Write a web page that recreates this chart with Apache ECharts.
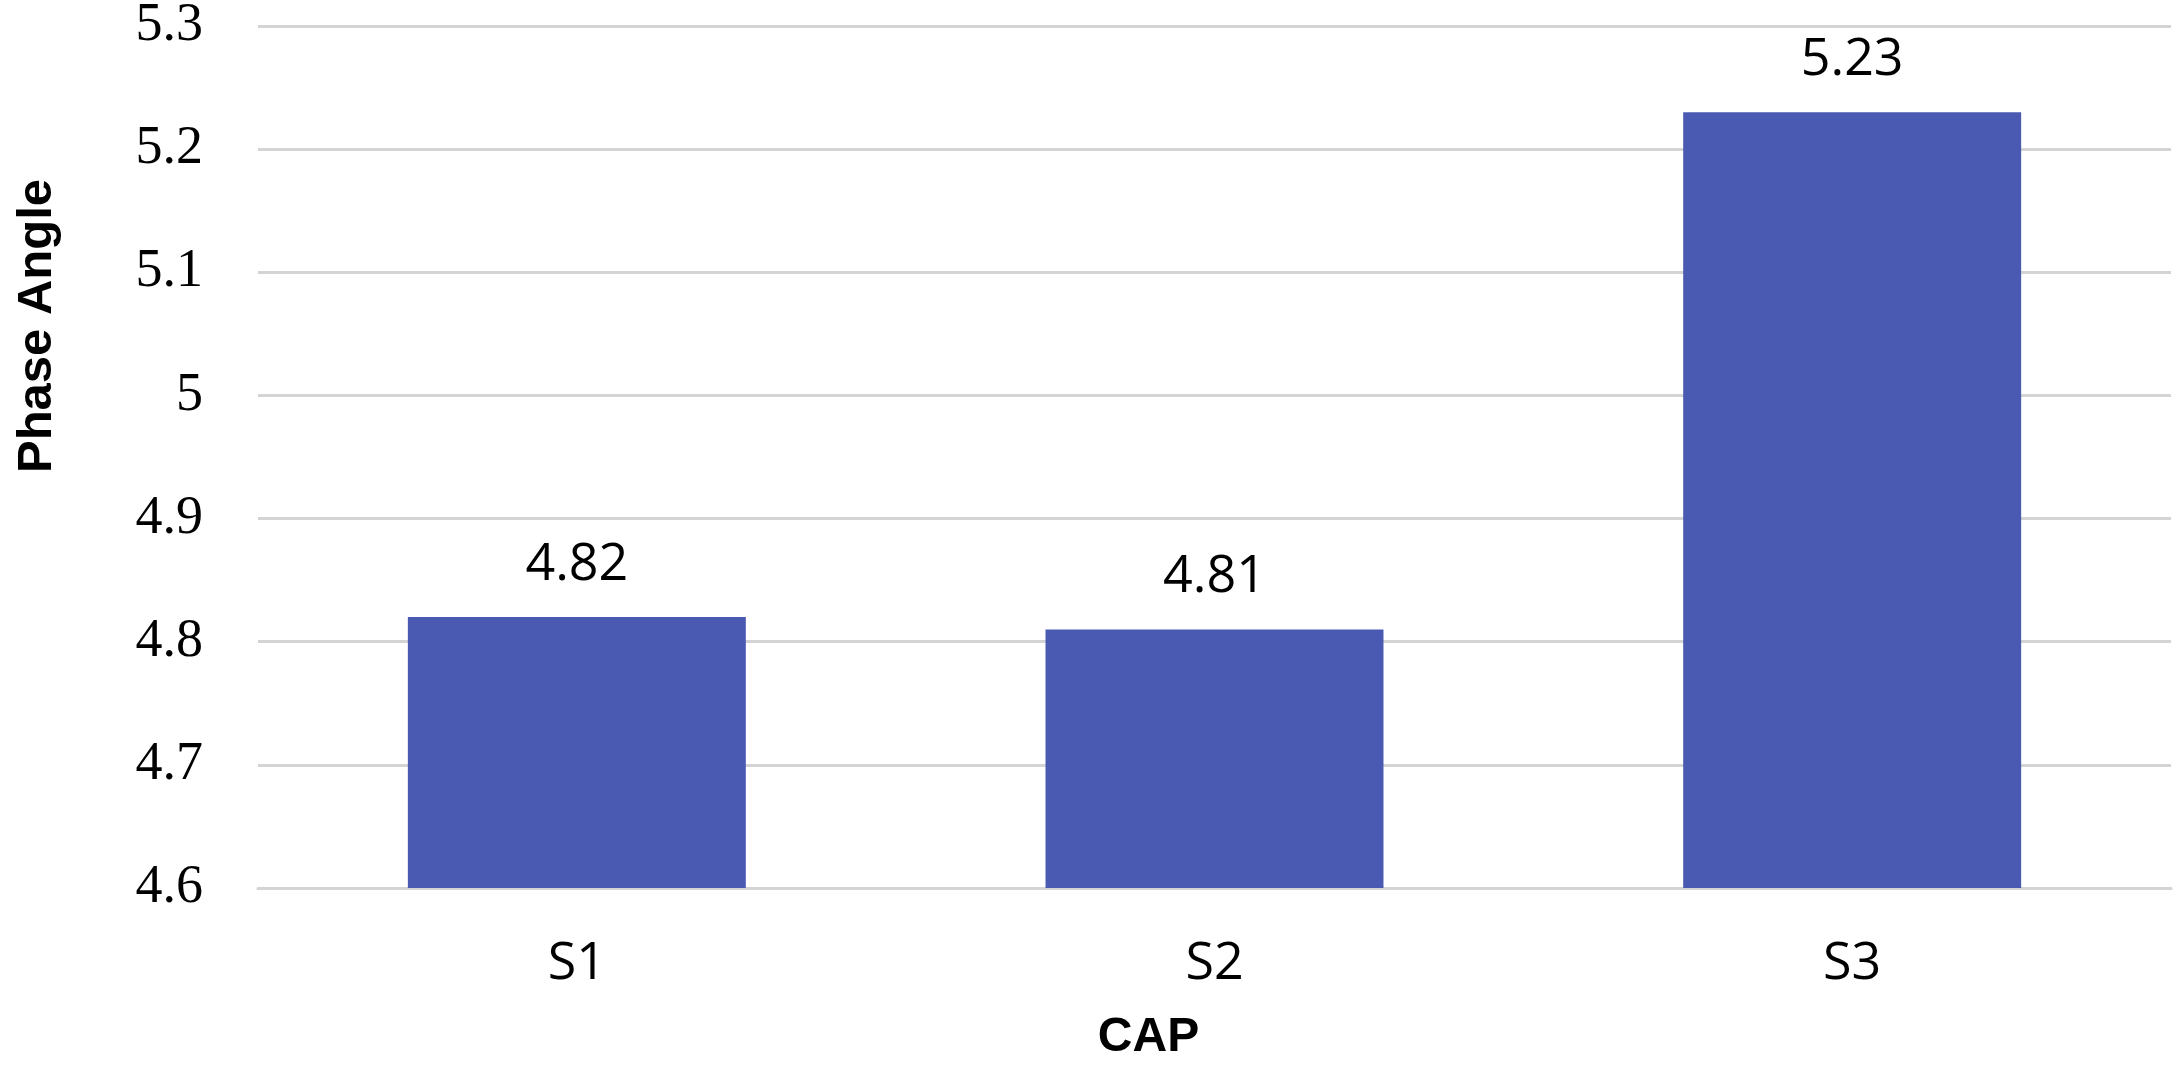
<!DOCTYPE html>
<html>
<head>
<meta charset="utf-8">
<script src="https://cdn.jsdelivr.net/npm/echarts@6/dist/echarts.min.js"></script>
<style>
html,body{margin:0;padding:0;background:#fff;}
#chart{width:2175px;height:1070px;}
</style>
</head>
<body>
<div id="chart"></div>
<script>
const categories = ['S1', 'S2', 'S3'];
const phaseAngle = [4.82, 4.81, 5.23];
const yMin = 4.6, yMax = 5.3, yStep = 0.1;

const chart = echarts.init(document.getElementById('chart'));
chart.setOption({
  animation: false,
  backgroundColor: '#ffffff',
  grid: { left: 258, right: 4, top: 26, bottom: 182, containLabel: false, outerBoundsMode: 'none' },
  xAxis: {
    type: 'category',
    data: categories,
    name: 'CAP',
    nameLocation: 'middle',
    nameGap: 126,
    nameTextStyle: { fontFamily: 'Liberation Sans', fontWeight: 'bold', fontSize: 48, color: '#000', padding: [0, 132, 0, 0] },
    axisLine: { show: true, lineStyle: { color: '#d4d4d4', width: 3 } },
    axisTick: { show: false },
    axisLabel: { fontFamily: 'Open Sans', fontSize: 52, color: '#000', margin: 50 }
  },
  yAxis: {
    type: 'value',
    min: yMin, max: yMax, interval: yStep,
    name: 'Phase Angle',
    nameLocation: 'middle',
    nameRotate: 90,
    nameGap: 196,
    nameTextStyle: { fontFamily: 'Liberation Sans', fontWeight: 'bold', fontSize: 49, color: '#000', padding: [0, 0, 0, 262] },
    axisLine: { show: false },
    axisTick: { show: false },
    splitLine: { show: true, lineStyle: { color: '#d4d4d4', width: 3 } },
    axisLabel: {
      fontFamily: 'Liberation Serif', fontSize: 54, color: '#000', margin: 55,
      formatter: v => String(parseFloat(v.toFixed(1)))
    }
  },
  series: [{
    type: 'bar',
    data: phaseAngle,
    barWidth: '53%',
    itemStyle: { color: '#4a5ab3' },
    label: {
      show: true, position: 'top', distance: 26,
      fontFamily: 'Open Sans', fontSize: 52, color: '#000',
      formatter: p => p.value.toFixed(2)
    }
  }]
});
</script>
</body>
</html>
